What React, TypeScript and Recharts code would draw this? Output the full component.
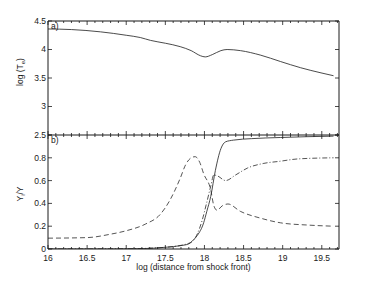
import React from 'react';
import { LineChart, Line, XAxis, YAxis, ReferenceLine } from 'recharts';

// ---------- data ----------
const xTe = [16.0, 16.3, 16.67, 17.0, 17.18, 17.31, 17.5, 17.69, 17.83, 17.95, 18.01, 18.1, 18.21, 18.29, 18.46, 18.72, 18.97, 19.23, 19.49, 19.65];
const logTe = [4.36, 4.35, 4.31, 4.25, 4.21, 4.16, 4.11, 4.05, 3.98, 3.89, 3.87, 3.91, 3.98, 4.0, 3.98, 3.9, 3.79, 3.68, 3.59, 3.54];

const xSolid = [16.0, 16.8, 17.2, 17.5, 17.7, 17.8, 17.86, 17.91, 17.99, 18.03, 18.08, 18.14, 18.21, 18.27, 18.37, 18.6, 18.97, 19.3, 19.65];
const ySolid = [0.0, 0.0, 0.003, 0.015, 0.03, 0.045, 0.08, 0.12, 0.23, 0.33, 0.46, 0.69, 0.88, 0.94, 0.955, 0.968, 0.978, 0.985, 0.99];

const xDashed = [16.0, 16.5, 16.8, 17.0, 17.25, 17.43, 17.56, 17.69, 17.76, 17.83, 17.88, 17.94, 17.99, 18.08, 18.12, 18.16, 18.23, 18.3, 18.46, 18.72, 18.97, 19.32, 19.65];
const yDashed = [0.095, 0.1, 0.13, 0.16, 0.22, 0.3, 0.43, 0.62, 0.74, 0.8, 0.81, 0.76, 0.66, 0.52, 0.38, 0.34, 0.38, 0.395, 0.33, 0.27, 0.23, 0.21, 0.2];

const xDashDot = [16.0, 17.0, 17.5, 17.8, 17.9, 17.97, 18.03, 18.08, 18.12, 18.17, 18.27, 18.4, 18.55, 18.75, 18.97, 19.19, 19.65];
const yDashDot = [0.0, 0.002, 0.015, 0.05, 0.12, 0.25, 0.41, 0.55, 0.65, 0.64, 0.6, 0.65, 0.71, 0.75, 0.77, 0.79, 0.8];

const xTickLabels = ['16', '16.5', '17', '17.5', '18', '18.5', '19', '19.5'];
const teTicks = [2.5, 3, 3.5, 4, 4.5];
const teTickLabels = ['2.5', '3', '3.5', '4', '4.5'];
const yiTicks = [0, 0.2, 0.4, 0.6, 0.8, 1];
const yiTickLabels = ['0', '0.2', '0.4', '0.6', '0.8', ''];

// ---------- layout ----------
const W = 374;
const H = 281;
const LEFT = 48;
const RIGHT_M = 35;
const PLOT_RIGHT = W - RIGHT_M;
const TOP_A = 21;
const MID = 135;
const X_MIN = 16;
const X_MAX = 19.72;
const FONT = '"Liberation Sans", Arial, Helvetica, sans-serif';
const FS = 8.5;
const INK = '#1a1a1a';
const LINE = '#2a2a2a';

const xTicks: number[] = [];
for (let i = 0; Math.round((X_MIN + i * 0.1) * 10) / 10 <= X_MAX; i++) {
  xTicks.push(Math.round((X_MIN + i * 0.1) * 10) / 10);
}
const isMajor = (v: number) => Math.abs(v * 2 - Math.round(v * 2)) < 1e-6;
const labelFor = (v: number) => {
  const idx = Math.round((v - 16) * 2);
  return isMajor(v) ? xTickLabels[idx] ?? '' : '';
};

const teData = xTe.map((x, i) => ({ x, v: logTe[i] }));
const solidData = xSolid.map((x, i) => ({ x, v: ySolid[i] }));
const dashedData = xDashed.map((x, i) => ({ x, v: yDashed[i] }));
const dashDotData = xDashDot.map((x, i) => ({ x, v: yDashDot[i] }));

// ---------- tick renderers ----------
const TopXTick = (props: any) => {
  const { x, y, payload } = props;
  const len = isMajor(payload.value) ? 4 : 2;
  return (
    <g>
      <line x1={x} x2={x} y1={y} y2={y - len} stroke={INK} strokeWidth={0.8} />
      <line x1={x} x2={x} y1={TOP_A} y2={TOP_A + len} stroke={INK} strokeWidth={0.8} />
    </g>
  );
};

const BottomXTick = (props: any) => {
  const { x, y, payload } = props;
  const major = isMajor(payload.value);
  const len = major ? 4 : 2;
  return (
    <g>
      <line x1={x} x2={x} y1={y} y2={y - len} stroke={INK} strokeWidth={0.8} />
      <line x1={x} x2={x} y1={MID} y2={MID + len} stroke={INK} strokeWidth={0.8} />
      {major && (
        <text x={x} y={y + 12} textAnchor="middle" fontFamily={FONT} fontSize={FS} fill={INK}>
          {labelFor(payload.value)}
        </text>
      )}
    </g>
  );
};

const makeYTick = (ticks: number[], labels: string[]) => (props: any) => {
  const { x, y, payload } = props;
  const idx = ticks.findIndex((t) => Math.abs(t - payload.value) < 1e-6);
  const label = idx >= 0 ? labels[idx] : '';
  return (
    <g>
      <line x1={x} x2={x + 4} y1={y} y2={y} stroke={INK} strokeWidth={0.8} />
      <line x1={PLOT_RIGHT} x2={PLOT_RIGHT - 4} y1={y} y2={y} stroke={INK} strokeWidth={0.8} />
      {label && (
        <text x={x - 2} y={y} dy="0.35em" textAnchor="end" fontFamily={FONT} fontSize={FS} fill={INK}>
          {label}
        </text>
      )}
    </g>
  );
};

const TeYTick = makeYTick(teTicks, teTickLabels);
const YiYTick = makeYTick(yiTicks, yiTickLabels);

export default function App() {
  return (
    <div style={{ position: 'absolute', left: 0, top: 0, width: W, height: H, background: '#fff' }}>
      <div style={{ position: 'absolute', left: 0, top: 0 }}>
        <LineChart width={W} height={140} margin={{ top: TOP_A, right: RIGHT_M, left: 0, bottom: 0 }}>
          <XAxis
            type="number"
            dataKey="x"
            domain={[X_MIN, X_MAX]}
            ticks={xTicks}
            interval={0}
            tickSize={0}
            tickMargin={0}
            height={5}
            tick={TopXTick}
            tickLine={false}
            axisLine={{ stroke: INK, strokeWidth: 1 }}
            allowDataOverflow
          />
          <YAxis
            type="number"
            domain={[2.5, 4.5]}
            ticks={teTicks}
            interval={0}
            width={LEFT}
            tickSize={0}
            tickMargin={0}
            tick={TeYTick}
            tickLine={false}
            axisLine={{ stroke: INK, strokeWidth: 1 }}
            allowDataOverflow
          />
          <ReferenceLine y={4.5} stroke="#8a8a8a" strokeWidth={2} ifOverflow="extendDomain" />
          <ReferenceLine x={X_MAX} stroke={INK} strokeWidth={1} ifOverflow="extendDomain" />
          <Line
            data={teData}
            dataKey="v"
            type="monotone"
            stroke={LINE}
            strokeWidth={0.85}
            dot={false}
            isAnimationActive={false}
          />
        </LineChart>
      </div>
      <div style={{ position: 'absolute', left: 0, top: 0 }}>
        <LineChart width={W} height={H} margin={{ top: MID, right: RIGHT_M, left: 0, bottom: 0 }}>
          <XAxis
            type="number"
            dataKey="x"
            domain={[X_MIN, X_MAX]}
            ticks={xTicks}
            interval={0}
            tickSize={0}
            tickMargin={0}
            height={32}
            tick={BottomXTick}
            tickLine={false}
            axisLine={{ stroke: INK, strokeWidth: 1 }}
            allowDataOverflow
          />
          <YAxis
            type="number"
            domain={[0, 1]}
            ticks={yiTicks}
            interval={0}
            width={LEFT}
            tickSize={0}
            tickMargin={0}
            tick={YiYTick}
            tickLine={false}
            axisLine={{ stroke: INK, strokeWidth: 1 }}
            allowDataOverflow
          />
          <ReferenceLine x={X_MAX} stroke={INK} strokeWidth={1} ifOverflow="extendDomain" />
          <Line
            data={dashedData}
            dataKey="v"
            type="monotone"
            stroke={LINE}
            strokeWidth={0.8}
            strokeDasharray="5 3"
            dot={false}
            isAnimationActive={false}
          />
          <Line
            data={dashDotData}
            dataKey="v"
            type="monotone"
            stroke={LINE}
            strokeWidth={0.8}
            strokeDasharray="5 2 1 2"
            dot={false}
            isAnimationActive={false}
          />
          <Line
            data={solidData}
            dataKey="v"
            type="monotone"
            stroke={LINE}
            strokeWidth={0.85}
            dot={false}
            isAnimationActive={false}
          />
        </LineChart>
      </div>
      <svg
        width={W}
        height={H}
        style={{ position: 'absolute', left: 0, top: 0, pointerEvents: 'none' }}
        fontFamily={FONT}
        fontSize={FS}
        fill={INK}
      >
        <text x={51} y={29}>a)</text>
        <text x={51} y={143}>b)</text>
        <text transform="translate(23,72) rotate(-90)" textAnchor="middle">
          log (T<tspan fontSize={6} dy={2}>e</tspan>
          <tspan dy={-2}>)</tspan>
        </text>
        <text transform="translate(23,194) rotate(-90)" textAnchor="middle">
          Y<tspan fontSize={6} dy={2}>i</tspan>
          <tspan dy={-2}>/Y</tspan>
        </text>
        <text x={(LEFT + PLOT_RIGHT) / 2} y={270} textAnchor="middle">
          log (distance from shock front)
        </text>
      </svg>
    </div>
  );
}
